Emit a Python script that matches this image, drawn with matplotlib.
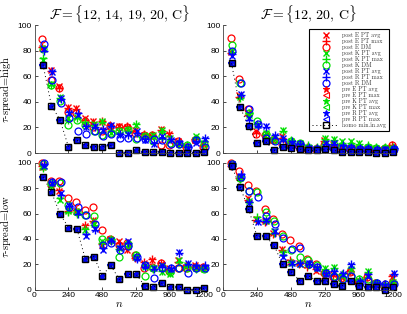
import matplotlib.pyplot as plt

plt.rcParams['mathtext.fontset'] = 'cm'
plt.rcParams['font.family'] = ['Liberation Sans', 'DejaVu Sans']

# x positions (n)
n = [60, 120, 180, 240, 300, 360, 420, 480, 540, 600,
     660, 720, 780, 840, 900, 960, 1020, 1080, 1140, 1200]

# tau-spread = high, F = {12, 14, 19, 20, C}
ha_homo = [69, 37, 26, 5, 10, 6, 5, 5, 6, 0, 0, 2, 1, 1, 1, 0, 0, 0, 0, 1]
ha_E_avg = [82, 65, 52, 36, 35, 27, 25, 24, 21, 21, 20, 18, 14, 13, 19, 15, 9, 4, 10, 7]
ha_E_max = [83, 64, 51, 35, 34, 26, 24, 25, 22, 20, 21, 17, 15, 14, 18, 16, 8, 5, 11, 6]
ha_E_dm = [89, 57, 51, 32, 31, 25, 20, 17, 21, 20, 20, 16, 14, 14, 6, 6, 9, 5, 10, 5]
ha_K_avg = [73, 54, 44, 27, 28, 23, 23, 25, 16, 17, 18, 22, 13, 14, 18, 12, 7, 5, 13, 8]
ha_K_max = [74, 53, 43, 26, 27, 24, 22, 24, 17, 16, 17, 23, 12, 13, 17, 11, 8, 6, 12, 9]
ha_K_dm = [81, 53, 41, 22, 26, 22, 17, 14, 16, 17, 18, 11, 13, 9, 13, 8, 7, 6, 11, 7]
ha_R_avg = [81, 63, 43, 31, 30, 20, 21, 18, 22, 14, 15, 17, 10, 7, 13, 10, 8, 4, 8, 11]
ha_R_max = [80, 64, 42, 32, 31, 21, 20, 19, 21, 15, 14, 16, 11, 8, 12, 11, 9, 5, 9, 12]
ha_R_dm = [85, 57, 39, 27, 17, 15, 17, 13, 15, 12, 12, 12, 11, 11, 10, 7, 7, 5, 10, 5]

# tau-spread = high, F = {12, 20, C}
hb_homo = [70, 36, 21, 8, 9, 2, 5, 4, 3, 2, 2, 3, 2, 1, 1, 1, 1, 0, 0, 1]
hb_E_avg = [79, 45, 31, 17, 13, 10, 13, 7, 5, 4, 3, 10, 7, 5, 4, 4, 3, 3, 3, 5]
hb_E_max = [78, 44, 30, 16, 14, 11, 12, 6, 6, 5, 4, 9, 6, 4, 5, 3, 4, 2, 4, 6]
hb_E_dm = [90, 58, 34, 15, 14, 10, 7, 6, 5, 3, 3, 6, 5, 5, 4, 3, 3, 3, 3, 6]
hb_K_avg = [80, 44, 30, 22, 16, 11, 18, 9, 8, 5, 4, 12, 11, 9, 9, 8, 5, 4, 4, 4]
hb_K_max = [79, 43, 31, 23, 15, 12, 17, 10, 7, 6, 5, 11, 10, 8, 8, 7, 6, 5, 5, 5]
hb_K_dm = [84, 55, 31, 25, 15, 10, 8, 9, 8, 4, 3, 6, 6, 5, 5, 4, 5, 4, 4, 3]
hb_R_avg = [76, 46, 27, 22, 21, 13, 12, 8, 6, 4, 3, 8, 8, 5, 4, 3, 3, 2, 3, 3]
hb_R_max = [77, 45, 26, 21, 20, 14, 11, 9, 7, 5, 4, 7, 7, 6, 5, 4, 4, 3, 2, 4]
hb_R_dm = [80, 55, 34, 23, 12, 9, 7, 6, 7, 3, 3, 5, 4, 4, 4, 3, 3, 2, 2, 3]

# tau-spread = low, F = {12, 14, 19, 20, C}
la_homo = [89, 77, 60, 49, 48, 24, 26, 11, 19, 8, 12, 12, 3, 2, 5, 2, 2, 0, 0, 1]
la_E_avg = [97, 83, 78, 63, 62, 50, 55, 35, 40, 38, 31, 26, 21, 23, 20, 17, 23, 18, 19, 17]
la_E_max = [98, 82, 79, 62, 63, 51, 54, 36, 39, 37, 32, 25, 22, 24, 21, 16, 22, 19, 18, 18]
la_E_dm = [100, 86, 86, 72, 69, 63, 65, 47, 40, 35, 37, 27, 17, 18, 21, 15, 17, 17, 18, 18]
la_K_avg = [97, 82, 71, 62, 61, 47, 52, 38, 39, 33, 35, 26, 18, 17, 14, 12, 23, 19, 17, 16]
la_K_max = [96, 83, 72, 61, 60, 48, 51, 37, 40, 32, 34, 27, 19, 16, 15, 13, 22, 18, 16, 17]
la_K_dm = [99, 84, 84, 67, 61, 59, 58, 40, 39, 26, 36, 27, 11, 17, 18, 14, 17, 17, 17, 16]
la_R_avg = [98, 84, 76, 67, 61, 42, 48, 31, 39, 33, 38, 25, 19, 17, 19, 16, 30, 21, 18, 18]
la_R_max = [99, 85, 75, 66, 60, 44, 47, 33, 38, 34, 37, 24, 18, 16, 18, 17, 29, 20, 19, 19]
la_R_dm = [100, 85, 85, 65, 65, 59, 52, 35, 37, 31, 34, 26, 19, 9, 17, 17, 17, 13, 17, 17]

# tau-spread = low, F = {12, 20, C}
lb_homo = [98, 81, 64, 42, 42, 35, 20, 14, 7, 11, 7, 7, 4, 3, 7, 3, 2, 2, 0, 2]
lb_E_avg = [99, 89, 72, 56, 54, 45, 32, 22, 21, 19, 15, 11, 12, 10, 14, 5, 11, 4, 3, 10]
lb_E_max = [98, 88, 71, 55, 53, 44, 31, 23, 20, 18, 16, 12, 11, 9, 15, 6, 10, 5, 4, 11]
lb_E_dm = [100, 94, 83, 78, 64, 56, 44, 39, 34, 24, 20, 13, 10, 9, 14, 6, 10, 5, 3, 5]
lb_K_avg = [99, 88, 70, 56, 54, 46, 29, 21, 20, 20, 17, 17, 18, 11, 16, 7, 15, 4, 3, 6]
lb_K_max = [98, 87, 69, 57, 55, 45, 30, 22, 21, 19, 18, 16, 17, 12, 17, 8, 14, 5, 4, 7]
lb_K_dm = [99, 88, 78, 77, 61, 54, 42, 31, 26, 23, 19, 13, 11, 8, 11, 8, 8, 5, 3, 4]
lb_R_avg = [99, 90, 68, 53, 55, 46, 26, 21, 20, 21, 17, 12, 14, 12, 19, 6, 11, 4, 3, 13]
lb_R_max = [98, 91, 69, 54, 54, 45, 27, 20, 21, 20, 18, 13, 15, 13, 20, 7, 12, 5, 4, 12]
lb_R_dm = [99, 89, 78, 73, 58, 52, 41, 32, 33, 20, 18, 13, 10, 8, 11, 5, 7, 5, 4, 4]

titles = [r'$\mathcal{F}=\{12,\,14,\,19,\,20,\,\mathrm{C}\}$',
          r'$\mathcal{F}=\{12,\,20,\,\mathrm{C}\}$']
row_labels = [r'$\tau$-spread=high', r'$\tau$-spread=low']
methods = ['E', 'K', 'R']
colors = {'E': '#ff0000', 'K': '#00e000', 'R': '#0000ff'}
x_shift = {'E': -5, 'K': 0, 'R': 5}

panels = [
    (0, 0, ha_homo, {'E': (ha_E_avg, ha_E_max, ha_E_dm), 'K': (ha_K_avg, ha_K_max, ha_K_dm), 'R': (ha_R_avg, ha_R_max, ha_R_dm)}),
    (0, 1, hb_homo, {'E': (hb_E_avg, hb_E_max, hb_E_dm), 'K': (hb_K_avg, hb_K_max, hb_K_dm), 'R': (hb_R_avg, hb_R_max, hb_R_dm)}),
    (1, 0, la_homo, {'E': (la_E_avg, la_E_max, la_E_dm), 'K': (la_K_avg, la_K_max, la_K_dm), 'R': (la_R_avg, la_R_max, la_R_dm)}),
    (1, 1, lb_homo, {'E': (lb_E_avg, lb_E_max, lb_E_dm), 'K': (lb_K_avg, lb_K_max, lb_K_dm), 'R': (lb_R_avg, lb_R_max, lb_R_dm)}),
]

W, H = 407, 314
cols_px = [(34.5, 204), (223, 393)]
rows_px = [(25, 153), (163, 289.5)]

fig = plt.figure(figsize=(W / 100, H / 100), dpi=100)
ms = 4.5
legend_ax = None

for r, c, homo, post in panels:
    x0, x1 = cols_px[c]
    yt, yb = rows_px[r]
    ax = fig.add_axes([x0 / W, 1 - yb / H, (x1 - x0) / W, (yb - yt) / H])

    for m in methods:
        avg, mx, dm = post[m]
        xs = [v + x_shift[m] for v in n]
        ax.plot(xs, avg, ls='none', marker='x', ms=ms, mew=1.0, color=colors[m],
                clip_on=False, label='post %s PT avg' % m)
        ax.plot(xs, mx, ls='none', marker='+', ms=ms + 1, mew=1.0, color=colors[m],
                clip_on=False, label='post %s PT max' % m)
        ax.plot(xs, dm, ls='none', marker='o', ms=ms + 0.5, mew=0.9, mfc='none',
                color=colors[m], clip_on=False, label='post %s DM' % m)
    # pre-rescheduling results sit on top of the homogeneous ones
    for m in methods:
        xs = [v - 4 for v in n]
        ax.plot(xs, homo, ls='none', marker='*', ms=ms + 0.5, mew=0.8, color=colors[m],
                clip_on=False, label='pre %s PT avg' % m)
        ax.plot(xs, homo, ls='none', marker='<', ms=ms - 0.5, mew=0.8, mfc='none',
                color=colors[m], clip_on=False, label='pre %s PT max' % m)
    ax.plot(n, homo, ls=(0, (1, 3)), lw=0.7, marker='s', ms=ms - 0.3, mew=1.0, mfc='none',
            color='black', clip_on=False, label='homo min.in.avg')

    ax.set_xlim(0, 1200)
    ax.set_ylim(0, 100)
    ax.set_xticks([0, 240, 480, 720, 960, 1200])
    ax.set_yticks([0, 20, 40, 60, 80, 100])
    ax.spines['top'].set_visible(False)
    ax.spines['right'].set_visible(False)
    for s in ('left', 'bottom'):
        ax.spines[s].set_linewidth(0.6)
        ax.spines[s].set_color('#444444')
    ax.tick_params(direction='in', length=2, width=0.5, labelsize=6, pad=2)
    if r == 0:
        ax.tick_params(labelbottom=False)
        ax.set_title(titles[c], fontsize=10, pad=4)
    else:
        ax.set_xlabel('$n$', fontsize=8, labelpad=0)
    if r == 0 and c == 1:
        legend_ax = ax

fig.text(6 / W, 1 - 89 / H, row_labels[0], rotation=90, ha='center', va='center',
         fontsize=7.5, family='cmr10')
fig.text(6 / W, 1 - 226 / H, row_labels[1], rotation=90, ha='center', va='center',
         fontsize=7.5, family='cmr10')

leg = legend_ax.legend(loc='upper right', bbox_to_anchor=(0.976, 0.969), borderaxespad=0,
                       prop={'family': 'cmr10', 'size': 4.3}, labelspacing=0.0,
                       handlelength=4.5, handletextpad=0.5, borderpad=0.5,
                       fancybox=False, framealpha=1, edgecolor='black', numpoints=1)
leg.get_frame().set_linewidth(0.8)
for t in leg.get_texts():
    t.set_color('#333333')

fig.savefig('out.png', dpi=100)
